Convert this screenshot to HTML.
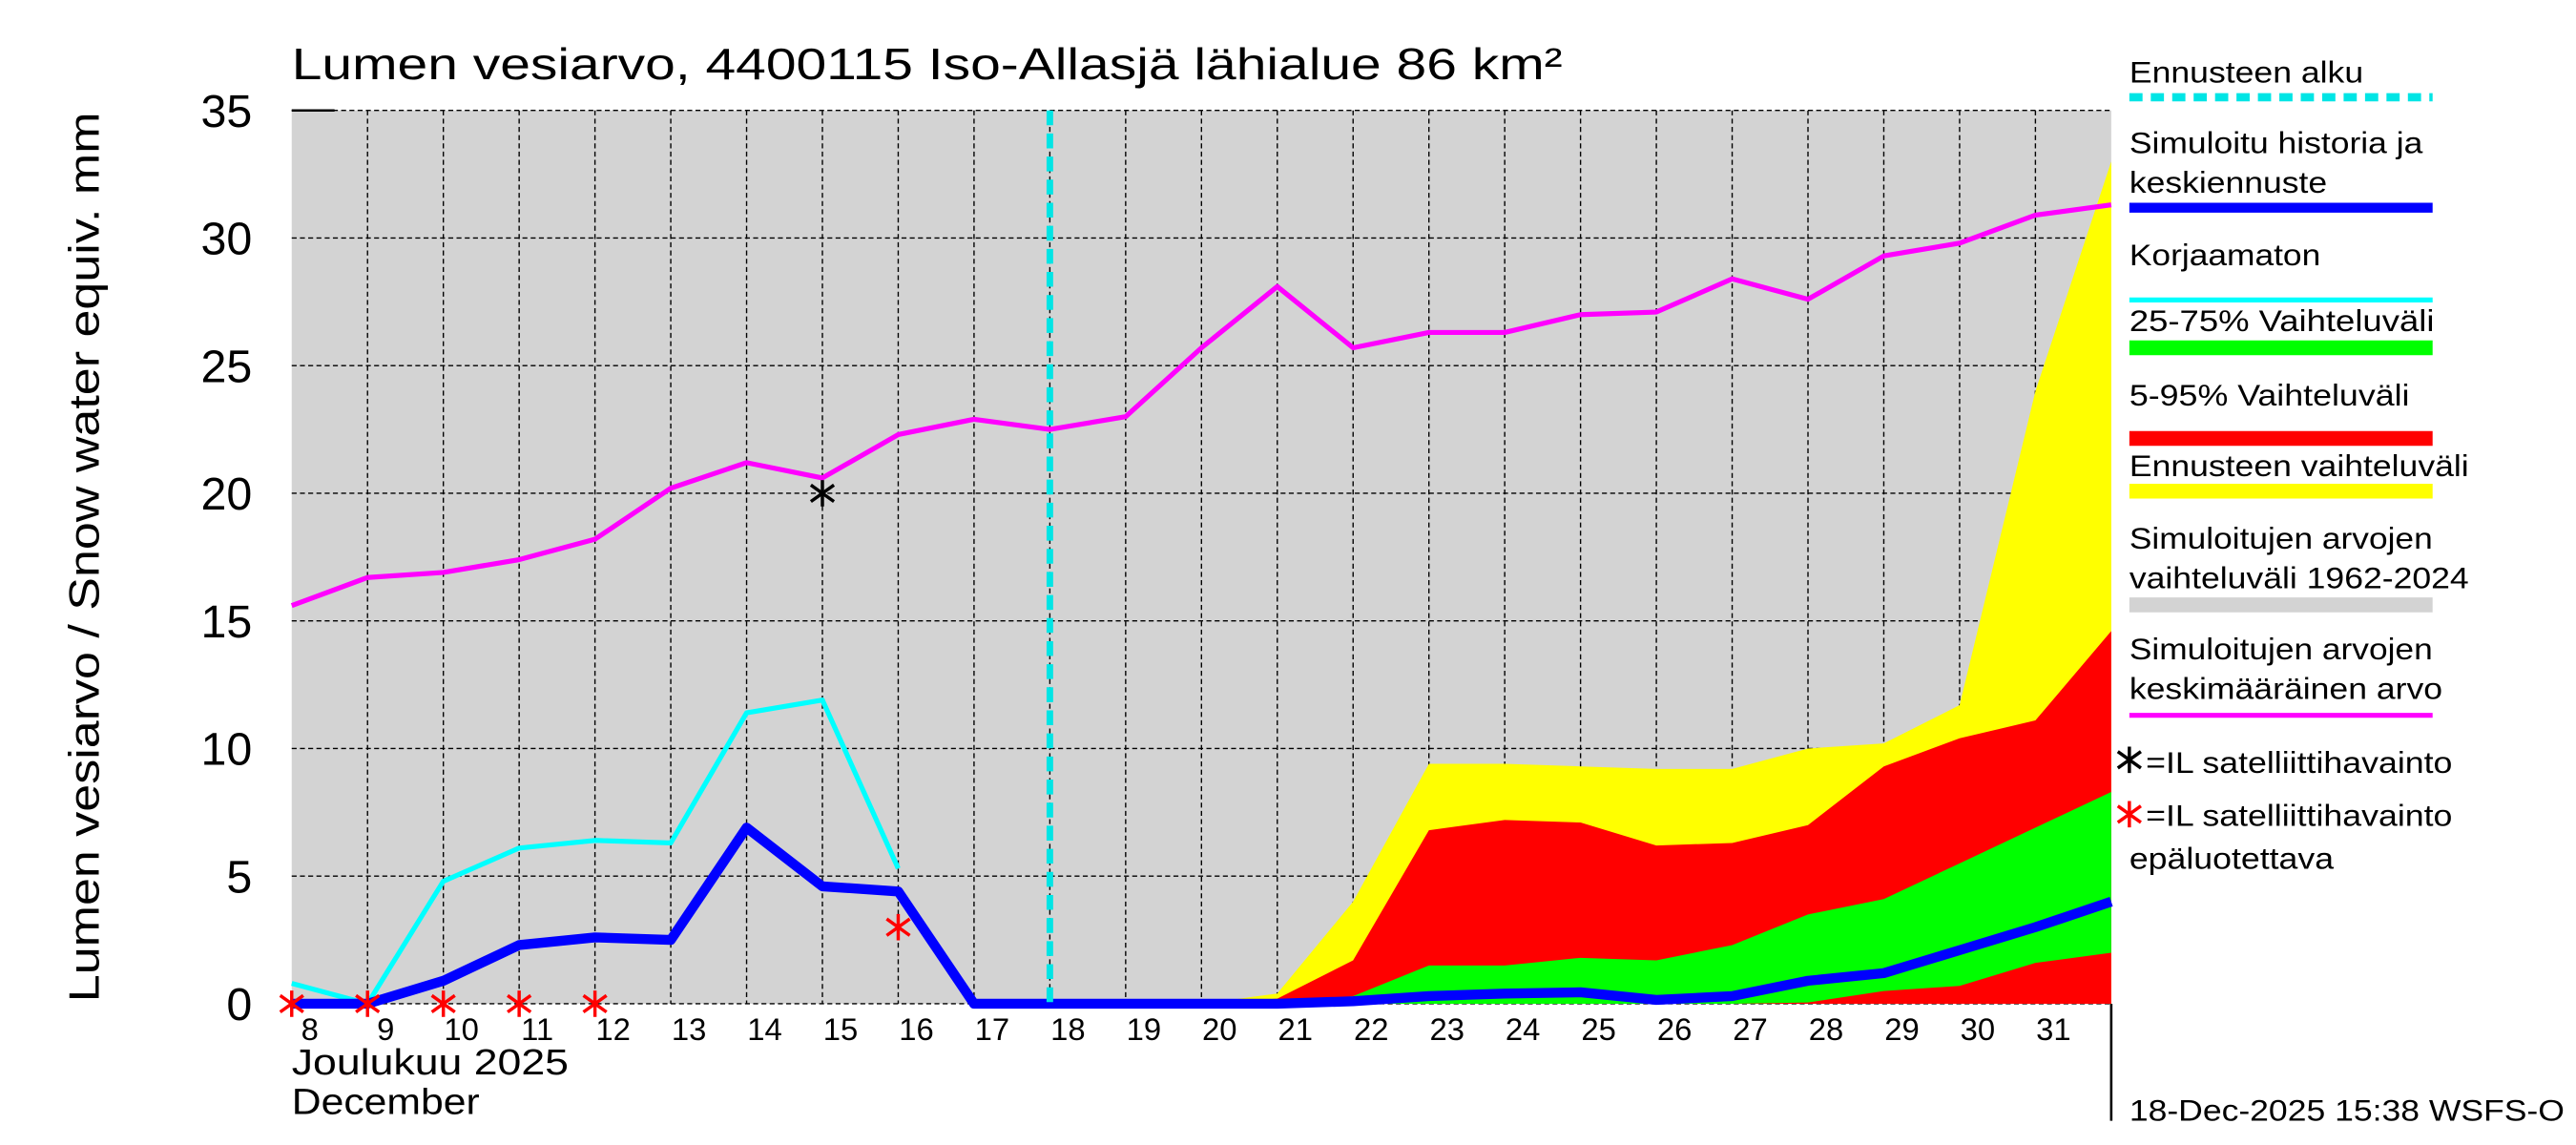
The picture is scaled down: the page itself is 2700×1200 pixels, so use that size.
<!DOCTYPE html>
<html><head><meta charset="utf-8"><style>
html,body{margin:0;padding:0;background:#fff;}
svg{display:block;font-family:"Liberation Sans",sans-serif;}
</style></head><body>
<svg id="chart" width="2700" height="1200" viewBox="0 0 1563 694.7" preserveAspectRatio="none" xmlns="http://www.w3.org/2000/svg">
<rect x="0" y="0" width="1563" height="695" fill="#fff"/>
<rect x="177" y="67" width="1104" height="542" fill="#d3d3d3"/>
<g id="grid"></g>
<g id="bands"></g>
<g id="lines"></g>
<line x1="637" y1="67" x2="637" y2="609" stroke="#00e5e5" stroke-width="4" stroke-dasharray="9,5"/>
<g id="marks"></g>
<g id="axes"></g>
<text x="177" y="48" font-size="27" textLength="771" lengthAdjust="spacingAndGlyphs">Lumen vesiarvo, 4400115 Iso-Allasjä lähialue 86 km²</text>
<text transform="translate(60,338) rotate(-90)" text-anchor="middle" font-size="26" textLength="540" lengthAdjust="spacingAndGlyphs">Lumen vesiarvo / Snow water equiv.    mm</text>
<text x="177" y="652" font-size="22" textLength="168" lengthAdjust="spacingAndGlyphs">Joulukuu  2025</text>
<text x="177" y="676" font-size="22" textLength="114" lengthAdjust="spacingAndGlyphs">December</text>
<line x1="1281" y1="609" x2="1281" y2="680" stroke="#000" stroke-width="1.5"/>
<text x="1292" y="680" font-size="18" textLength="264" lengthAdjust="spacingAndGlyphs">18-Dec-2025 15:38 WSFS-O</text>
<g id="legend" font-size="18">
<text x="1292" y="50" textLength="142" lengthAdjust="spacingAndGlyphs">Ennusteen alku</text>
<line x1="1292" y1="59" x2="1476" y2="59" stroke="#00e5e5" stroke-width="5" stroke-dasharray="8,5"/>
<text x="1292" y="93" textLength="178" lengthAdjust="spacingAndGlyphs">Simuloitu historia ja</text>
<text x="1292" y="117" textLength="120" lengthAdjust="spacingAndGlyphs">keskiennuste</text>
<line x1="1292" y1="126" x2="1476" y2="126" stroke="#0000ff" stroke-width="6"/>
<text x="1292" y="161" textLength="116" lengthAdjust="spacingAndGlyphs">Korjaamaton</text>
<line x1="1292" y1="182" x2="1476" y2="182" stroke="#00ffff" stroke-width="3"/>
<text x="1292" y="201" textLength="185" lengthAdjust="spacingAndGlyphs">25-75% Vaihteluväli</text>
<line x1="1292" y1="211" x2="1476" y2="211" stroke="#00ff00" stroke-width="9"/>
<text x="1292" y="246" textLength="170" lengthAdjust="spacingAndGlyphs">5-95% Vaihteluväli</text>
<line x1="1292" y1="266" x2="1476" y2="266" stroke="#ff0000" stroke-width="9"/>
<text x="1292" y="289" textLength="206" lengthAdjust="spacingAndGlyphs">Ennusteen vaihteluväli</text>
<line x1="1292" y1="298" x2="1476" y2="298" stroke="#ffff00" stroke-width="9"/>
<text x="1292" y="333" textLength="184" lengthAdjust="spacingAndGlyphs">Simuloitujen arvojen</text>
<text x="1292" y="357" textLength="206" lengthAdjust="spacingAndGlyphs">vaihteluväli 1962-2024</text>
<line x1="1292" y1="367" x2="1476" y2="367" stroke="#d3d3d3" stroke-width="9"/>
<text x="1292" y="400" textLength="184" lengthAdjust="spacingAndGlyphs">Simuloitujen arvojen</text>
<text x="1292" y="424" textLength="190" lengthAdjust="spacingAndGlyphs">keskimääräinen arvo</text>
<line x1="1292" y1="434" x2="1476" y2="434" stroke="#ff00ff" stroke-width="3"/>
<text x="1302" y="469" textLength="186" lengthAdjust="spacingAndGlyphs">=IL satelliittihavainto</text>
<text x="1302" y="501" textLength="186" lengthAdjust="spacingAndGlyphs">=IL satelliittihavainto</text>
<text x="1292" y="527" textLength="124" lengthAdjust="spacingAndGlyphs">epäluotettava</text>
</g>
<script>
const days=[8,9,10,11,12,13,14,15,16,17,18,19,20,21,22,23,24,25,26,27,28,29,30,31,32];
const meanVals=[15.6,16.7,16.9,17.4,18.2,20.2,21.2,20.6,22.3,22.9,22.5,23.0,25.7,28.1,25.7,26.3,26.3,27.0,27.1,28.4,27.6,29.3,29.8,30.9,31.3];
const uncorrDays=[8,9,10,11,12,13,14,15,16];
const uncorrVals=[0.8,0,4.8,6.1,6.4,6.3,11.4,11.9,5.3];
const simVals=[0,0,0.9,2.3,2.6,2.5,6.9,4.6,4.4,0,0,0,0,0,0.1,0.3,0.4,0.45,0.15,0.3,0.9,1.2,2.1,3.0,4.0];
const bandDays=[20,21,22,23,24,25,26,27,28,29,30,31,32];
const yellowUpper=[0,0.4,4.0,9.4,9.4,9.3,9.2,9.2,10.0,10.2,11.7,24,33];
const redUpper=[0,0.2,1.7,6.8,7.2,7.1,6.2,6.3,7.0,9.3,10.4,11.1,14.6];
const greenUpper=[0,0,0.3,1.5,1.5,1.8,1.7,2.3,3.5,4.1,5.5,6.9,8.3];
const greenLower=[0,0,0,0,0,0,0,0,0.05,0.5,0.7,1.6,2.0];
const satDays=[15];const satVals=[20.0];
const badSatDays=[8,9,10,11,12,16];const badSatVals=[0,0,0,0,0,3.0];
const yTicks=[0,5,10,15,20,25,30,35];
const xTickLabels=["8","9","10","11","12","13","14","15","16","17","18","19","20","21","22","23","24","25","26","27","28","29","30","31"];

const NS="http://www.w3.org/2000/svg";
const X=d=>177+(d-8)*46;
const Y=v=>609-v*(542/35);
function mk(tag,attrs,parent){const e=document.createElementNS(NS,tag);for(const k in attrs)e.setAttribute(k,attrs[k]);parent.appendChild(e);return e;}
const grid=document.getElementById('grid'),bands=document.getElementById('bands'),lines=document.getElementById('lines'),marks=document.getElementById('marks'),axes=document.getElementById('axes');
yTicks.forEach(t=>{
  const l=mk('line',{x1:177,x2:1281,y1:Y(t),y2:Y(t),stroke:'#000','stroke-width':0.8,'stroke-dasharray':'3,2'},grid);
  
  
  const tx=mk('text',{x:153,y:Y(t)+10,'text-anchor':'end','font-size':28},axes);
  tx.textContent=t;
  
  
});
mk('line',{x1:177,x2:203,y1:Y(35),y2:Y(35),stroke:'#000','stroke-width':1.5},axes);
xTickLabels.forEach((lab,i)=>{
  const d=8+i;
  if(i>0){const l=mk('line',{x1:X(d),x2:X(d),y1:67,y2:609,stroke:'#000','stroke-width':0.8,'stroke-dasharray':'3,2'},grid);
  
  }
  const tx=mk('text',{x:X(d)+11,y:631,'text-anchor':'middle','font-size':19},axes);
  tx.textContent=lab;
  
  
});
function band(up,lo,color,name){
  let p=bandDays.map((d,i)=>X(d)+','+Y(up[i]));
  for(let i=bandDays.length-1;i>=0;i--)p.push(X(bandDays[i])+','+Y(lo[i]));
  const e=mk('polygon',{points:p.join(' '),fill:color},bands);
  
  
}
const zeros=bandDays.map(()=>0);
band(yellowUpper,zeros,'#ffff00','forecast-range-band');
band(redUpper,zeros,'#ff0000','5-95-band');
band(greenUpper,greenLower,'#00ff00','25-75-band');
function line(ds,vs,color,w,name){
  const e=mk('polyline',{points:ds.map((d,i)=>X(d)+','+Y(vs[i])).join(' '),fill:'none',stroke:color,'stroke-width':w,'stroke-linejoin':'round'},lines);
  
  
}
line(days,meanVals,'#ff00ff',3,'mean-line');
line(uncorrDays,uncorrVals,'#00ffff',3,'uncorrected-line');
line(days,simVals,'#0000ff',6,'simulated-line');
function star(x,y,color,name){
  const g=mk('g',{stroke:color,'stroke-width':2},marks);
  
  
  mk('line',{x1:x,y1:y-8,x2:x,y2:y+8},g);
  mk('line',{x1:x-7,y1:y-5,x2:x+7,y2:y+5},g);
  mk('line',{x1:x-7,y1:y+5,x2:x+7,y2:y-5},g);
}
satDays.forEach((d,i)=>star(X(d),Y(satVals[i]),'#000','satellite-obs'));
badSatDays.forEach((d,i)=>star(X(d),Y(badSatVals[i]),'#ff0000','satellite-obs-unreliable'));
star(1292,461,'#000','legend-black-star');
star(1292,494,'#ff0000','legend-red-star');
</script>
</svg>
</body></html>
